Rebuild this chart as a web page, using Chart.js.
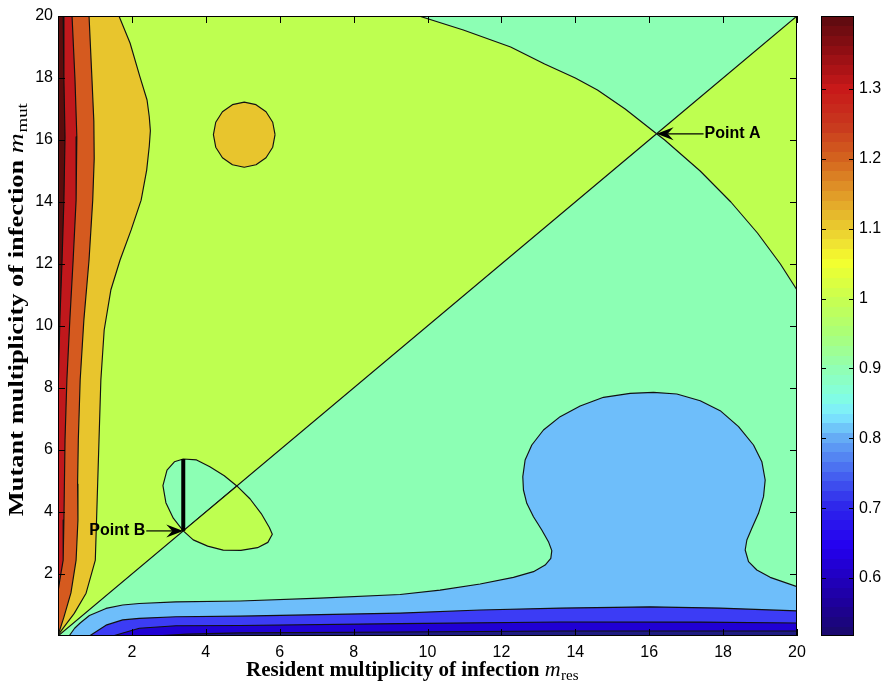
<!DOCTYPE html>
<html>
<head>
<meta charset="utf-8">
<title>Invasion fitness map</title>
<script src="https://cdn.jsdelivr.net/npm/chart.js@4.4.1/dist/chart.umd.min.js"></script>
<style>
  html, body { margin: 0; padding: 0; background: #fff; }
  #wrap { width: 883px; height: 682px; position: relative; }
</style>
</head>
<body>
<div id="wrap"><canvas id="c" width="883" height="682"></canvas></div>
<script>
// ---- axes ----
const xTicks = [2, 4, 6, 8, 10, 12, 14, 16, 18, 20];
const yTicks = [2, 4, 6, 8, 10, 12, 14, 16, 18, 20];
const cbTicks = [0.6, 0.7, 0.8, 0.9, 1, 1.1, 1.2, 1.3];
const cbMin = 0.517;
const cbMax = 1.4045;

// ---- marked points (m_res, m_mut) ----
const pointA = [16.2, 16.2];
const pointB = [3.39, 3.39];
const pathFromB = [[3.39, 3.39], [3.39, 5.71]];

// ---- level curves, as (m_res, m_mut) pairs ----
// curve through Point A, from the top edge down to the right edge
const curveA = [[9.77, 20], [10.97, 19.55], [12.25, 19], [13.17, 18.45], [14.0, 18], [14.6, 17.61],
  [15.35, 17], [16.2, 16.2], [16.42, 16], [17.38, 15], [18.21, 14], [18.93, 13], [19.55, 12], [20, 11.16]];

// closed loop through Point B, split by the diagonal
const loopBUpper = [[3.39, 3.39], [3.12, 3.80], [2.92, 4.30], [2.84, 4.85], [2.95, 5.35], [3.15, 5.62],
  [3.39, 5.71], [3.75, 5.68], [4.11, 5.46], [4.50, 5.17], [4.84, 4.84]];
const loopBLower = [[4.84, 4.84], [5.20, 4.42], [5.50, 3.95], [5.72, 3.50], [5.80, 3.28], [5.68, 3.02],
  [5.40, 2.85], [4.95, 2.76], [4.47, 2.77], [4.05, 2.90], [3.66, 3.10], [3.39, 3.39]];

// isolated island near (5, 16)
const island = [[5.874, 16.17], [5.811, 16.572], [5.630, 16.912], [5.359, 17.140], [5.04, 17.22],
  [4.721, 17.140], [4.450, 16.912], [4.269, 16.572], [4.206, 16.17], [4.269, 15.768], [4.450, 15.428],
  [4.721, 15.200], [5.04, 15.12], [5.359, 15.200], [5.630, 15.428], [5.811, 15.768]];

// bands along the left edge (top to bottom)
const edge110 = [[1.65, 20], [1.95, 19.13], [2.22, 18.03], [2.41, 17.29], [2.47, 16.75], [2.50, 16.3],
  [2.47, 15.8], [2.40, 15.03], [2.25, 14.06], [1.98, 13.10], [1.68, 12.13], [1.43, 11.16], [1.25, 9.87],
  [1.16, 8.26], [1.11, 6.32], [1.06, 4.39], [1.01, 2.45], [0.76, 1.38], [0.44, 0.73], [0.17, 0.30], [0.02, 0.06]];
const edge120 = [[0.84, 20], [0.92, 17.94], [0.97, 16.6], [0.98, 15.4], [0.94, 14.06], [0.84, 12.13],
  [0.70, 10.19], [0.60, 8.26], [0.55, 6.32], [0.53, 4.9], [0.54, 3.74], [0.49, 2.45], [0.35, 1.39],
  [0.16, 0.61], [0.03, 0.13]];
const edge130 = [[0.38, 20], [0.46, 17.94], [0.51, 16.1], [0.49, 14.06], [0.41, 12.13], [0.32, 10.19],
  [0.24, 8.26], [0.19, 6.32], [0.16, 3.74], [0.14, 2.45], [0.05, 1.81], [0, 1.42]];
const edge140 = [[0.14, 20], [0.16, 17.94], [0.19, 16.1], [0.16, 14.06], [0.11, 12.13], [0.05, 10.19], [0, 7.61]];

// bands along the bottom edge (left to right)
const edge085 = [[0.30, 0], [0.45, 0.25], [0.60, 0.42], [0.85, 0.66], [1.30, 0.89], [1.75, 1.00], [2.20, 1.05],
  [3.19, 1.10], [4.93, 1.13], [7.09, 1.22], [9.26, 1.34], [10.34, 1.48], [11.424, 1.677], [12.326, 1.892],
  [12.868, 2.075], [13.184, 2.290], [13.337, 2.505], [13.364, 2.753], [13.273, 3.043], [13.093, 3.419],
  [12.868, 3.849], [12.687, 4.280], [12.597, 4.710], [12.579, 5.140], [12.642, 5.677], [12.823, 6.161],
  [13.138, 6.645], [13.590, 7.075], [14.131, 7.419], [14.763, 7.699], [15.485, 7.828], [16.116, 7.860],
  [16.748, 7.806], [17.380, 7.591], [17.921, 7.269], [18.418, 6.753], [18.823, 6.161], [19.049, 5.624],
  [19.139, 5.032], [19.094, 4.495], [18.958, 3.957], [18.778, 3.473], [18.643, 3.097], [18.598, 2.774],
  [18.688, 2.398], [18.913, 2.129], [19.274, 1.892], [20, 1.591]];
const edge075 = [[0.85, 0], [1.30, 0.35], [1.75, 0.52], [2.20, 0.57], [3.19, 0.62], [4.93, 0.64],
  [9.26, 0.74], [11.42, 0.84], [13.59, 0.90], [16.03, 0.94], [17.92, 0.90], [20, 0.81]];
const edge065 = [[1.48, 0], [2.20, 0.25], [3.19, 0.33], [4.93, 0.34], [9.26, 0.40], [13.59, 0.45],
  [17.38, 0.45], [20, 0.42]];
const edge055 = [[2.6, 0], [3.5, 0.06], [4.93, 0.10], [9.26, 0.13], [13.59, 0.16], [20, 0.16]];

// ---- fill colours per band ----
const C = {
  c090: '#8cffb4', c100: '#beff50', c110: '#e8c52d', c120: '#d55a1f', c130: '#c0181c', c140: '#5a0c0c',
  c080: '#6ebefa', c070: '#3c3cf5', c060: '#2000d4', c050: '#1e1a82'
};

// colour scale of the bar on the right
const cbStops = [
  [0.517, [25, 10, 105]], [0.56, [30, 0, 150]], [0.60, [32, 0, 190]], [0.645, [36, 0, 240]],
  [0.70, [45, 35, 235]], [0.75, [70, 100, 240]], [0.80, [100, 170, 245]], [0.835, [125, 235, 255]],
  [0.86, [130, 255, 225]], [0.90, [145, 255, 180]], [0.95, [170, 255, 120]], [1.00, [200, 255, 80]],
  [1.055, [245, 255, 45]], [1.08, [240, 225, 50]], [1.11, [232, 195, 45]], [1.15, [225, 155, 40]],
  [1.20, [212, 100, 30]], [1.25, [200, 55, 30]], [1.30, [200, 25, 25]], [1.35, [150, 15, 20]],
  [1.4045, [90, 10, 15]]
];

// ---- polygons ----
const iA = curveA.findIndex(p => p[0] === pointA[0] && p[1] === pointA[1]);
const polyBg = [[0, 0], [20, 0], [20, 20], [0, 20], [0, 0]];
const polyUpper = [[0, 0], pointA, ...curveA.slice(0, iA).reverse(), [0, 20], [0, 0]];
const polyRight = [pointA, [20, 20], ...curveA.slice(iA + 1).reverse(), pointA];
const closeLoop = a => [...a, a[0]];
const leftBand = e => [[0, 20], ...e, ...(e[e.length - 1][0] === 0 ? [] : [[0, 0]]), [0, 20]];
const bottomBand = e => [...e, [20, 0], e[0]];

const toXY = a => a.map(p => ({ x: p[0], y: p[1] }));

const layers = [
  { d: polyBg, c: C.c090, bw: 0 },
  { d: polyUpper, c: C.c100 },
  { d: polyRight, c: C.c100 },
  { d: closeLoop(loopBUpper), c: C.c090 },
  { d: closeLoop(loopBLower), c: C.c100 },
  { d: closeLoop(island), c: C.c110 },
  { d: leftBand(edge110), c: C.c110 },
  { d: leftBand(edge120), c: C.c120 },
  { d: leftBand(edge130), c: C.c130 },
  { d: leftBand(edge140), c: C.c140 },
  { d: bottomBand(edge085), c: C.c080 },
  { d: bottomBand(edge075), c: C.c070 },
  { d: bottomBand(edge065), c: C.c060 },
  { d: bottomBand(edge055), c: C.c050 }
];

const datasets = layers.map((L, i) => ({
  data: toXY(L.d),
  showLine: true,
  fill: 'shape',
  backgroundColor: L.c,
  borderColor: '#111',
  borderWidth: L.bw === undefined ? 1.15 : L.bw,
  borderJoinStyle: 'round',
  pointRadius: 0,
  pointHoverRadius: 0,
  tension: 0,
  order: 100 - i
}));
datasets.push({
  data: toXY(pathFromB),
  showLine: true,
  fill: false,
  borderColor: '#000',
  borderWidth: 4,
  borderCapStyle: 'butt',
  pointRadius: 0,
  pointHoverRadius: 0,
  order: 0
});

// ---- plugins ----
function lerpColor(v) {
  for (let i = 1; i < cbStops.length; i++) {
    const [v1, c1] = cbStops[i];
    const [v0, c0] = cbStops[i - 1];
    if (v <= v1) {
      const t = (v - v0) / (v1 - v0);
      return 'rgb(' + c0.map((c, k) => Math.round(c + (c1[k] - c) * t)).join(',') + ')';
    }
  }
  return 'rgb(' + cbStops[cbStops.length - 1][1].join(',') + ')';
}

const frameTicks = {
  id: 'frameTicks',
  afterDatasetsDraw(chart) {
    const { ctx, chartArea: a, scales: { x, y } } = chart;
    ctx.save();
    ctx.strokeStyle = '#000';
    ctx.lineWidth = 1;
    ctx.beginPath();
    xTicks.forEach(v => {
      const px = Math.round(x.getPixelForValue(v)) + 0.5;
      ctx.moveTo(px, a.bottom); ctx.lineTo(px, a.bottom - 7);
      ctx.moveTo(px, a.top); ctx.lineTo(px, a.top + 7);
    });
    yTicks.forEach(v => {
      const py = Math.round(y.getPixelForValue(v)) + 0.5;
      ctx.moveTo(a.left, py); ctx.lineTo(a.left + 7, py);
      ctx.moveTo(a.right, py); ctx.lineTo(a.right - 7, py);
    });
    ctx.stroke();
    ctx.strokeRect(a.left + 0.5, a.top + 0.5, a.width - 1, a.height - 1);
    ctx.restore();
  }
};

function drawArrow(ctx, tx, ty, hx, hy) {
  const ang = Math.atan2(hy - ty, hx - tx);
  const L = 17, W = 6.5, N = 11;
  ctx.beginPath();
  ctx.moveTo(tx, ty);
  ctx.lineTo(hx - Math.cos(ang) * N, hy - Math.sin(ang) * N);
  ctx.stroke();
  ctx.save();
  ctx.translate(hx, hy);
  ctx.rotate(ang);
  ctx.beginPath();
  ctx.moveTo(0, 0); ctx.lineTo(-L, -W); ctx.lineTo(-N, 0); ctx.lineTo(-L, W);
  ctx.closePath();
  ctx.fill();
  ctx.restore();
}

const pointLabels = {
  id: 'pointLabels',
  afterDatasetsDraw(chart) {
    const { ctx, scales: { x, y } } = chart;
    const ax = x.getPixelForValue(pointA[0]), ay = y.getPixelForValue(pointA[1]);
    const bx = x.getPixelForValue(pointB[0]), by = y.getPixelForValue(pointB[1]);
    ctx.save();
    ctx.fillStyle = '#000';
    ctx.strokeStyle = '#000';
    ctx.lineWidth = 1.2;
    drawArrow(ctx, ax + 47, ay, ax, ay);
    drawArrow(ctx, bx - 37, by, bx, by);
    ctx.font = 'bold 16px "Liberation Sans", Arial, sans-serif';
    ctx.textBaseline = 'middle';
    ctx.textAlign = 'left';
    ctx.fillText('Point A', ax + 48, ay);
    ctx.textAlign = 'right';
    ctx.fillText('Point B', bx - 38, by);
    ctx.restore();
  }
};

const colorBar = {
  id: 'colorBar',
  afterDraw(chart) {
    const { ctx } = chart;
    const s = chart.scales.cb;
    const left = 821, right = 854;
    const top = s.getPixelForValue(cbMax), bottom = s.getPixelForValue(cbMin);
    const steps = 64;
    const dv = (cbMax - cbMin) / steps;
    ctx.save();
    for (let i = 0; i < steps; i++) {
      const v0 = cbMin + i * dv, v1 = v0 + dv;
      const y0 = s.getPixelForValue(v0), y1 = s.getPixelForValue(v1);
      ctx.fillStyle = lerpColor(v0 + dv / 2);
      ctx.fillRect(left, Math.floor(y1), right - left, Math.ceil(y0) - Math.floor(y1));
    }
    ctx.strokeStyle = '#000';
    ctx.lineWidth = 1;
    ctx.beginPath();
    cbTicks.forEach(v => {
      const py = Math.round(s.getPixelForValue(v)) + 0.5;
      ctx.moveTo(left, py); ctx.lineTo(left + 5, py);
      ctx.moveTo(right, py); ctx.lineTo(right - 5, py);
    });
    ctx.stroke();
    ctx.strokeRect(left + 0.5, Math.round(top) + 0.5, right - left - 1, Math.round(bottom - top) - 1);
    ctx.restore();
  }
};

function drawMathTitle(ctx, words, sym, sub) {
  const fMain = 'bold 21px "Liberation Serif", "Times New Roman", serif';
  const fSym = 'italic 22px "Liberation Serif", "Times New Roman", serif';
  const fSub = '15px "Liberation Serif", "Times New Roman", serif';
  ctx.font = fMain; const w1 = ctx.measureText(words + ' ').width;
  ctx.font = fSym; const w2 = ctx.measureText(sym).width;
  ctx.font = fSub; const w3 = ctx.measureText(sub).width;
  let x = -(w1 + w2 + w3) / 2;
  ctx.textAlign = 'left';
  ctx.textBaseline = 'alphabetic';
  ctx.font = fMain; ctx.fillText(words + ' ', x, 0); x += w1;
  ctx.font = fSym; ctx.fillText(sym, x, 0); x += w2 + 0.5;
  ctx.font = fSub; ctx.fillText(sub, x, 4);
}

const axisTitles = {
  id: 'axisTitles',
  afterDraw(chart) {
    const { ctx } = chart;
    ctx.save();
    ctx.fillStyle = '#000';
    ctx.translate(412, 676);
    drawMathTitle(ctx, 'Resident multiplicity of infection', 'm', 'res');
    ctx.restore();
    ctx.save();
    ctx.fillStyle = '#000';
    ctx.translate(23, 310);
    ctx.rotate(-Math.PI / 2);
    ctx.scale(1.26, 1);
    drawMathTitle(ctx, 'Mutant multiplicity of infection', 'm', 'mut');
    ctx.restore();
  }
};

const tickFont = { family: '"Liberation Sans", Arial, sans-serif', size: 16 };
const fmt = v => String(Math.round(v * 10) / 10);

new Chart(document.getElementById('c'), {
  type: 'scatter',
  data: { datasets },
  options: {
    responsive: false,
    devicePixelRatio: 1,
    animation: false,
    events: [],
    layout: { padding: { top: 16, left: 0, right: 0, bottom: 0 } },
    plugins: { legend: { display: false }, tooltip: { enabled: false }, filler: { propagate: false } },
    scales: {
      x: {
        type: 'linear', position: 'bottom', min: 0, max: 20,
        grid: { display: false, drawTicks: false }, border: { display: false },
        ticks: { font: tickFont, color: '#000', padding: 7, maxRotation: 0, autoSkip: false, callback: fmt },
        afterBuildTicks: s => { s.ticks = xTicks.map(v => ({ value: v })); },
        afterFit: s => { s.height = 46; s.paddingLeft = 0; s.paddingRight = 0; }
      },
      y: {
        type: 'linear', position: 'left', min: 0, max: 20,
        grid: { display: false, drawTicks: false }, border: { display: false },
        ticks: { font: tickFont, color: '#000', padding: 5, autoSkip: false, callback: fmt },
        afterBuildTicks: s => { s.ticks = yTicks.map(v => ({ value: v })); },
        afterFit: s => { s.width = 58; s.paddingTop = 0; s.paddingBottom = 0; }
      },
      cb: {
        type: 'linear', position: 'right', min: cbMin, max: cbMax,
        grid: { display: false, drawTicks: false }, border: { display: false },
        ticks: { font: tickFont, color: '#000', padding: 62, autoSkip: false, callback: fmt },
        afterBuildTicks: s => { s.ticks = cbTicks.map(v => ({ value: v })); },
        afterFit: s => { s.width = 86; s.paddingTop = 0; s.paddingBottom = 0; }
      }
    }
  },
  plugins: [frameTicks, pointLabels, colorBar, axisTitles]
});
</script>
</body>
</html>
